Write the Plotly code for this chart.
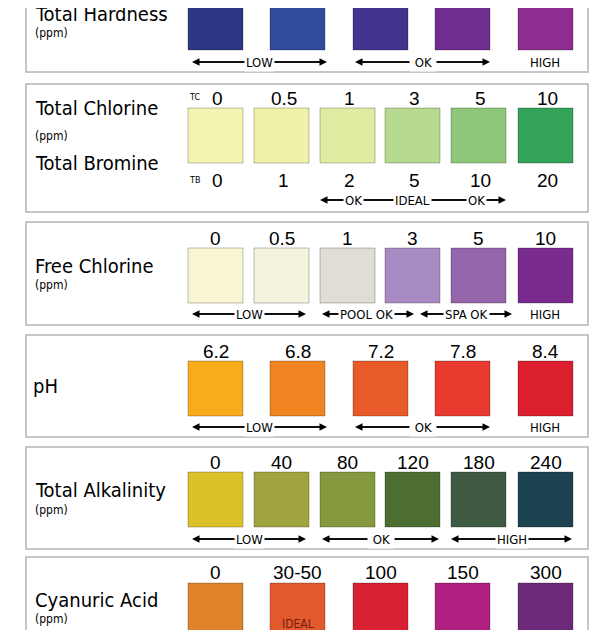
import plotly.graph_objects as go

# test strip chart data
hardness_colors = ['#2b3784', '#2f4b9e', '#43338f', '#6e2d8f', '#8f2c8f']
chlorine_tc = ['0', '0.5', '1', '3', '5', '10']
bromine_tb = ['0', '1', '2', '5', '10', '20']
chlorine_colors = ['#f3f4b0', '#eef2aa', '#e1eba2', '#b6da8f', '#8fc77a', '#33a357']
free_cl_values = ['0', '0.5', '1', '3', '5', '10']
free_cl_colors = ['#f8f6d2', '#f4f3de', '#e0ddd6', '#a88bc2', '#9565ab', '#7a2b90']
ph_values = ['6.2', '6.8', '7.2', '7.8', '8.4']
ph_colors = ['#f8ac1c', '#f08420', '#e85a28', '#e83a2e', '#dc1f2e']
alk_values = ['0', '40', '80', '120', '180', '240']
alk_colors = ['#dcc22a', '#a0a43e', '#859a3e', '#4d6e33', '#3f5a43', '#1c4252']
cya_values = ['0', '30-50', '100', '150', '300']
cya_colors = ['#e0842c', '#e05a2c', '#d62232', '#b02080', '#6e2a7a']

X5 = [188, 270, 353, 435, 518]
X6 = [188, 254, 320, 385, 451, 518]
W = 55

fig = go.Figure()
shapes = []
ann = []
COND = 'DejaVu Sans Condensed, Liberation Sans Narrow, Arial Narrow'
NUM = dict(family='Liberation Sans, Arial', size=19, color='black')
TITLE = dict(family=COND, size=20, color='black')
PPM = dict(family=COND, size=12, color='black')
LAB = dict(family=COND, size=13, color='black')


def panel(y0, y1):
    shapes.append(dict(type='rect', x0=26, x1=588, y0=y0, y1=y1,
                       line=dict(color='#b4b4b4', width=1.5), fillcolor='white', layer='below'))


def swatches(xs, colors, y0, y1):
    for x, c in zip(xs, colors):
        shapes.append(dict(type='rect', x0=x, x1=x + W, y0=y0, y1=y1, fillcolor=c,
                           line=dict(color='rgba(0,0,0,0.25)', width=1)))


def numbers(xs, vals, y, dx=0):
    for x, v in zip(xs, vals):
        ann.append(dict(x=x + W / 2 + dx, y=y, text=v, font=NUM, showarrow=False))


def text(x, y, t, font, xanchor='left', bg=None):
    ann.append(dict(x=x, y=y, text=t, font=font, showarrow=False, xanchor=xanchor,
                    bgcolor=bg))


def span(x0, x1, y, label, cx=None):
    cx = cx if cx is not None else (x0 + x1) / 2
    shapes.append(dict(type='line', x0=x0 + 4, x1=x1 - 4, y0=y, y1=y, line=dict(color='black', width=1.5)))
    for tip in (x0, x1):
        ann.append(dict(x=tip, y=y, ax=cx, ay=y, axref='x', ayref='y', text='', showarrow=True,
                        arrowhead=2, arrowsize=1, arrowwidth=1.5, arrowcolor='black'))
    if label:
        text(cx, y, label, LAB, 'center', 'white')


# Total Hardness
panel(-20, 72)
swatches(X5, hardness_colors, -20, 50)
text(33, 14, 'Total Hardness', TITLE)
text(33, 33, '(ppm)', PPM)
span(192, 327, 62, 'LOW')
span(355, 490, 62, ' OK ')
text(545, 62, 'HIGH', LAB, 'center')

# Total Chlorine / Bromine
panel(84, 212)
swatches(X6, chlorine_colors, 108, 163)
numbers(X6, chlorine_tc, 98, 2)
numbers(X6, bromine_tb, 180, 2)
text(187, 97, 'TC', dict(family=COND, size=9, color='black'))
text(187, 180, 'TB', dict(family=COND, size=9, color='black'))
text(33, 108, 'Total Chlorine', TITLE)
text(33, 136, '(ppm)', PPM)
text(33, 163, 'Total Bromine', TITLE)
span(320, 506, 200, None)
text(353, 200, 'OK', LAB, 'center', 'white')
text(412, 200, 'IDEAL', LAB, 'center', 'white')
text(476, 200, 'OK', LAB, 'center', 'white')

# Free Chlorine
panel(222, 325)
swatches(X6, free_cl_colors, 248, 303)
numbers(X6, free_cl_values, 238)
text(33, 266, 'Free Chlorine', TITLE)
text(33, 285, '(ppm)', PPM)
span(192, 306, 314, 'LOW')
span(322, 414, 314, 'POOL OK', 366)
span(420, 512, 314, 'SPA OK', 466)
text(545, 314, 'HIGH', LAB, 'center')

# pH
panel(335, 437)
swatches(X5, ph_colors, 361, 416)
numbers(X5, ph_values, 351)
text(31, 386, 'pH', TITLE)
span(192, 327, 427, 'LOW')
span(355, 490, 427, ' OK ')
text(545, 427, 'HIGH', LAB, 'center')

# Total Alkalinity
panel(447, 549)
swatches(X6, alk_colors, 472, 527)
numbers(X6, alk_values, 462)
text(33, 490, 'Total Alkalinity', TITLE)
text(33, 510, '(ppm)', PPM)
span(192, 306, 539, 'LOW')
span(322, 439, 539, ' OK ')
span(451, 572, 539, 'HIGH')

# Cyanuric Acid
panel(557, 660)
swatches(X5, cya_colors, 583, 660)
numbers(X5, cya_values, 572)
text(33, 600, 'Cyanuric Acid', TITLE)
text(33, 619, '(ppm)', PPM)
text(X5[1] + W / 2, 624, 'IDEAL', dict(family=COND, size=12, color='#7a1a10'), 'center')

# page body has an 8px margin, so shift the axis window to keep reference pixel positions
fig.update_layout(
    width=612, height=630, margin=dict(l=0, r=0, t=0, b=0),
    plot_bgcolor='white', paper_bgcolor='white', showlegend=False,
    xaxis=dict(range=[8, 620], visible=False, fixedrange=True),
    yaxis=dict(range=[638, 8], visible=False, fixedrange=True),
    shapes=shapes, annotations=ann,
)
fig.write_html('out.html')
